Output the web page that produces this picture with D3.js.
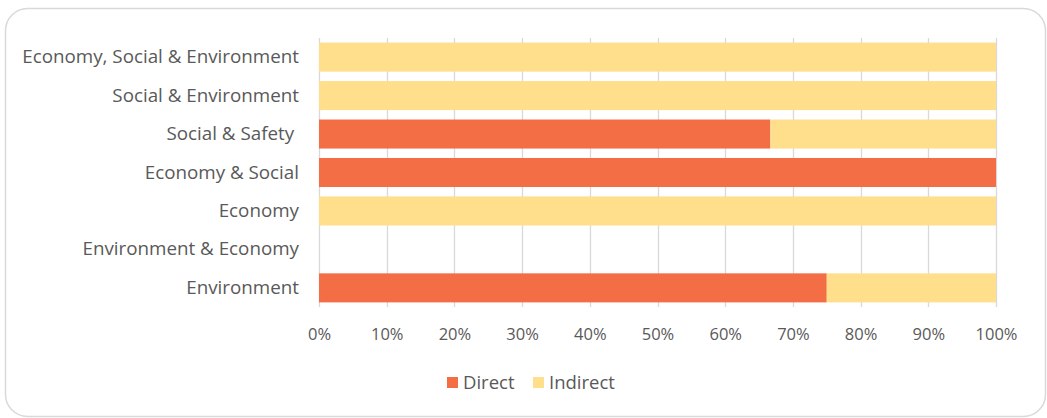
<!DOCTYPE html>
<html>
<head>
<meta charset="utf-8">
<script src="https://cdn.jsdelivr.net/npm/d3@7"></script>
<style>
  html, body { margin: 0; padding: 0; background: #fff; }
  svg text { font-family: "Open Sans", "Liberation Sans", sans-serif; fill: #595959; white-space: pre; }
</style>
</head>
<body>
<svg id="chart" width="1047" height="418"></svg>
<script>
// Categories listed top to bottom
const categories = [
  "Economy, Social & Environment",
  "Social & Environment",
  "Social & Safety ",
  "Economy & Social",
  "Economy",
  "Environment & Economy",
  "Environment"
];
// Shares in percent per category
const directValues   = [0, 0, 66.67, 100, 0, 0, 75];
const indirectValues = [100, 100, 33.33, 0, 100, 0, 25];
const seriesNames = ["Direct", "Indirect"];
const seriesColors = ["#F36E45", "#FFDE8C"];
const tickValues = [0, 10, 20, 30, 40, 50, 60, 70, 80, 90, 100];

const svg = d3.select("#chart");
const W = 1047, H = 418;

// Outer frame
svg.append("rect")
  .attr("x", 5.5).attr("y", 8.5)
  .attr("width", W - 7).attr("height", H - 10)
  .attr("rx", 22).attr("ry", 22)
  .attr("fill", "#fff")
  .attr("stroke", "#D9D9D9").attr("stroke-width", 1.5);

const plot = { left: 319, right: 996, top: 38, bottom: 307 };

const x = d3.scaleLinear().domain([0, 100]).range([plot.left, plot.right]);
const y = d3.scaleBand().domain(categories).range([plot.top, plot.bottom]).paddingInner(0.245).paddingOuter(0.12);

// Vertical gridlines
svg.append("g")
  .selectAll("line")
  .data(tickValues)
  .join("line")
  .attr("x1", d => Math.round(x(d)) + 0.5).attr("x2", d => Math.round(x(d)) + 0.5)
  .attr("y1", plot.top).attr("y2", plot.bottom)
  .attr("stroke", "#D9D9D9").attr("stroke-width", 1.3);

// Stacked bars
const rows = categories.map((c, i) => ({ cat: c, Direct: directValues[i], Indirect: indirectValues[i] }));
const stacked = d3.stack().keys(seriesNames)(rows);

svg.append("g")
  .selectAll("g")
  .data(stacked)
  .join("g")
  .attr("fill", (d, i) => seriesColors[i])
  .selectAll("rect")
  .data(d => d)
  .join("rect")
  .attr("x", d => x(d[0]))
  .attr("y", d => y(d.data.cat))
  .attr("width", d => Math.max(0, x(d[1]) - x(d[0])))
  .attr("height", y.bandwidth());

// Category axis labels
const yAxis = d3.axisLeft(y).tickSize(0).tickPadding(20);
const gy = svg.append("g").attr("transform", `translate(${plot.left},0)`).call(yAxis);
gy.select(".domain").remove();
gy.selectAll("text").attr("font-size", 18.8).attr("fill", "#595959").style("font-family", null);

// Percent axis labels
const xAxis = d3.axisBottom(x).tickValues(tickValues).tickFormat(d => d + "%").tickSize(0).tickPadding(21);
const gx = svg.append("g").attr("transform", `translate(0,${plot.bottom})`).call(xAxis);
gx.select(".domain").remove();
gx.selectAll("text").attr("font-size", 16.5).attr("fill", "#595959").style("font-family", null);

// Legend
const legend = svg.append("g").attr("transform", "translate(447,383)");
const legendItems = legend.selectAll("g").data(seriesNames).join("g")
  .attr("transform", (d, i) => `translate(${i === 0 ? 0 : 86},0)`);
legendItems.append("rect")
  .attr("x", 0).attr("y", -6).attr("width", 11).attr("height", 11)
  .attr("fill", (d, i) => seriesColors[i]);
legendItems.append("text")
  .attr("x", 16).attr("y", 0).attr("dy", "0.35em")
  .attr("font-size", 18.5)
  .text(d => d);
</script>
</body>
</html>
